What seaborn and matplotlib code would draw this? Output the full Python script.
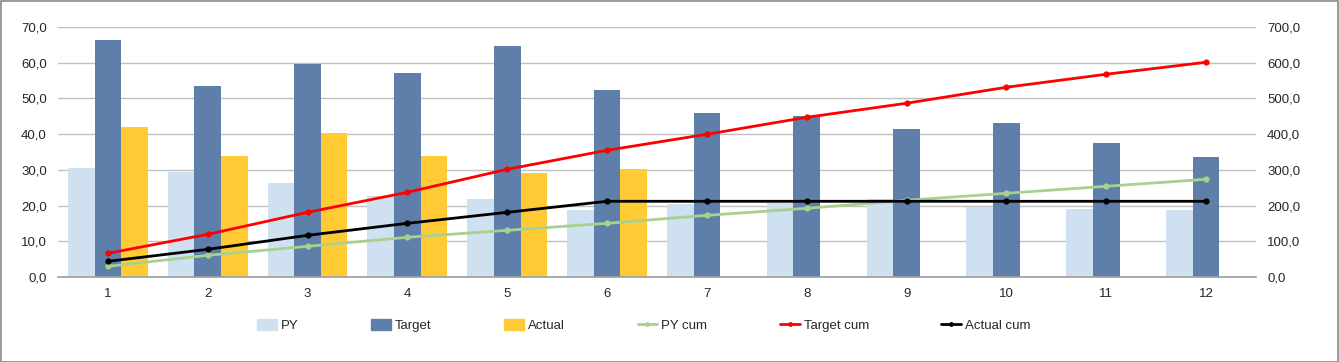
import matplotlib
matplotlib.use("Agg")
import matplotlib.pyplot as plt
from matplotlib.patches import Rectangle
from matplotlib.ticker import FuncFormatter, MultipleLocator
import numpy as np
import pandas as pd
import seaborn as sns

# ── Data ──────────────────────────────────────────────────────────────────────
months = ["1", "2", "3", "4", "5", "6", "7", "8", "9", "10", "11", "12"]
py = [30.5, 29.4, 26.3, 22.7, 21.8, 18.8, 20.4, 20.8, 21.8, 19.6, 19.0, 18.8]
target = [66.4, 53.5, 59.7, 57.1, 64.7, 52.4, 45.9, 45.1, 41.5, 43.1, 37.5, 33.6]
actual = [42.0, 33.9, 40.3, 33.9, 29.1, 30.2, None, None, None, None, None, None]

py_cum = [29.9, 60.7, 85.9, 111.1, 130.7, 150.3, 172.7, 192.3, 214.8, 234.4, 254.0, 273.6]
target_cum = [66.3, 119.5, 181.1, 237.2, 301.6, 354.8, 399.6, 447.2, 486.5, 531.3, 567.7, 601.3]
actual_cum = [43.9, 77.5, 116.7, 150.3, 181.1, 212.0, 212.0, 212.0, 212.0, 212.0, 212.0, 212.0]

bar_series = ["PY", "Target", "Actual"]
line_series = ["PY cum", "Target cum", "Actual cum"]

# ── Colours ───────────────────────────────────────────────────────────────────
BAR_COLORS = {"PY": "#cfe0f1", "Target": "#5e7fa9", "Actual": "#ffca33"}
LINE_COLORS = {"PY cum": "#a9d18e", "Target cum": "#ff0000", "Actual cum": "#000000"}
GRID_CLR = "#c0c0c0"
TEXT_CLR = "#262626"

sns.set_theme(style="white")
plt.rcParams.update({
    "font.family": ["Liberation Sans", "DejaVu Sans"],
    "font.size": 9.5,
    "text.color": TEXT_CLR,
    "xtick.color": TEXT_CLR,
    "ytick.color": TEXT_CLR,
})

bars_df = pd.DataFrame({
    "month": months * 3,
    "series": ["PY"] * 12 + ["Target"] * 12 + ["Actual"] * 12,
    "value": py + target + actual,
})
lines_df = pd.DataFrame({
    "x": list(range(12)) * 3,
    "series": ["PY cum"] * 12 + ["Target cum"] * 12 + ["Actual cum"] * 12,
    "value": py_cum + target_cum + actual_cum,
})

fig = plt.figure(figsize=(13.39, 3.62), dpi=100)
ax = fig.add_axes([0.0433, 0.2348, 0.8947, 0.6906])

sns.barplot(data=bars_df, x="month", y="value", hue="series",
            hue_order=bar_series, palette=BAR_COLORS, order=months,
            width=0.8, saturation=1, ax=ax, legend=False,
            linewidth=0, edgecolor="none", err_kws={"linewidth": 0})

ax.set_ylim(0, 70)
ax.set_xlim(-0.5, 11.5)
ax.yaxis.set_major_locator(MultipleLocator(10))
ax.yaxis.set_major_formatter(FuncFormatter(lambda v, _: f"{v:.1f}".replace(".", ",")))
ax.grid(axis="y", color=GRID_CLR, linewidth=1)
ax.set_axisbelow(True)
for side in ["top", "left", "right"]:
    ax.spines[side].set_visible(False)
ax.spines["bottom"].set_color("#a0a0a0")
ax.tick_params(axis="both", length=0, labelsize=9.5)
ax.tick_params(axis="x", pad=8)
ax.tick_params(axis="y", pad=8)
ax.set_xlabel("")
ax.set_ylabel("")

ax2 = ax.twinx()
for name in line_series:
    sub = lines_df[lines_df["series"] == name]
    sns.lineplot(data=sub, x="x", y="value", color=LINE_COLORS[name],
                 marker="o", markersize=4.5, markeredgewidth=0,
                 linewidth=2, ax=ax2, label=name, legend=False)
ax2.set_ylim(0, 700)
ax2.set_xlim(-0.5, 11.5)
ax2.yaxis.set_major_locator(MultipleLocator(100))
ax2.yaxis.set_major_formatter(FuncFormatter(lambda v, _: f"{v:.1f}".replace(".", ",")))
ax2.tick_params(axis="y", length=0, labelsize=9.5, pad=8)
ax2.set_ylabel("")
for side in ["top", "left", "right", "bottom"]:
    ax2.spines[side].set_visible(False)

# ── Legend ────────────────────────────────────────────────────────────────────
handles = [Rectangle((0, 0), 1, 1, color=BAR_COLORS[s]) for s in bar_series]
handles += [plt.Line2D([], [], color=LINE_COLORS[s], linewidth=2, marker="o",
                       markersize=3.5, markeredgewidth=0) for s in line_series]
fig.legend(handles, bar_series + line_series, loc="center", ncol=6,
           bbox_to_anchor=(0.481, 0.1), frameon=False, fontsize=9.5,
           handlelength=1.5, handleheight=0.8, handletextpad=0.3,
           columnspacing=5.5)

# outer border like the chart area frame
fig.patches.append(Rectangle((0.0005, 0.001), 0.999, 0.997, transform=fig.transFigure,
                             fill=False, edgecolor="#898989", linewidth=1.2))

fig.savefig("out.png", dpi=100, facecolor="white")
